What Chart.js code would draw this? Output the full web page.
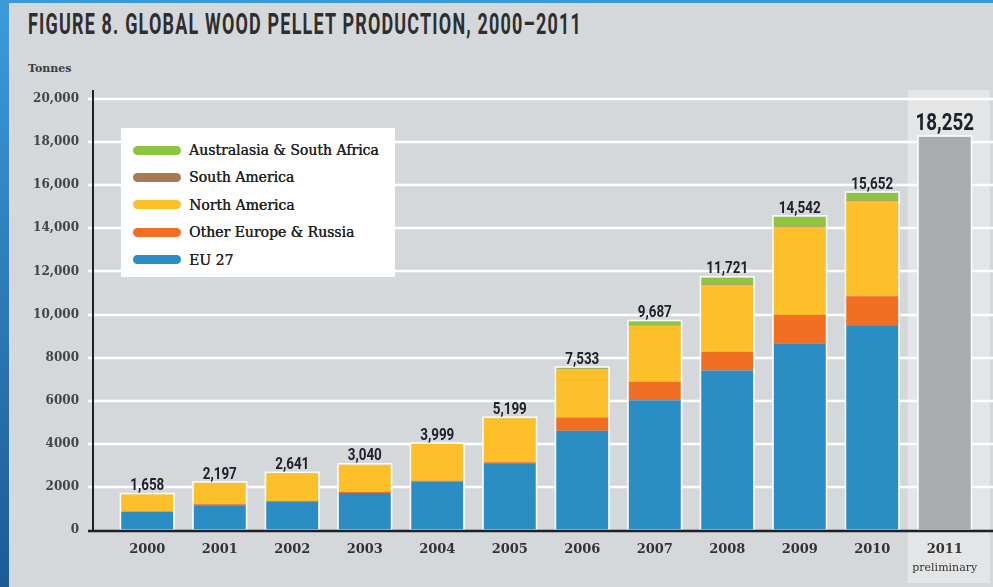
<!DOCTYPE html>
<html lang="en">
<head>
<meta charset="UTF-8" />
<title>Global Wood Pellet Production, 2000–2011</title>
<script src="https://cdn.jsdelivr.net/npm/chart.js"></script>
<style>
  html, body { margin: 0; padding: 0; }
  body { width: 993px; height: 587px; overflow: hidden; position: relative; background: #d5d8db; }
  .edge-left { position: absolute; left: 0; top: 0; width: 9px; height: 587px; background: linear-gradient(#3c9bd9, #1c5b96); z-index: 3; }
  .edge-top { position: absolute; left: 0; top: 0; width: 993px; height: 3px; background: #3a99d8; z-index: 3; }
  #title { position: absolute; left: 28px; top: 6px; font: 700 30px Roboto, sans-serif; color: #2e2e2e; white-space: nowrap; transform-origin: 0 0; letter-spacing: 2px; }
  #unit { position: absolute; left: 28px; top: 62px; font: bold 11px "DejaVu Serif", serif; color: #3c3c3c; }
  #chart { position: absolute; left: 0; top: 0; }
  #legend { position: absolute; left: 121px; top: 128px; width: 274px; height: 149px; background: #fff; z-index: 2; }
  .row { position: absolute; left: 12px; height: 20px; display: flex; align-items: center; font: 14px "DejaVu Serif", serif; color: #222; white-space: nowrap; text-shadow: 0.35px 0 #222; }
  .sw { width: 48px; height: 9px; border-radius: 5px; margin-right: 8px; }
</style>
</head>
<body>
  <div class="edge-top"></div>
  <div class="edge-left"></div>
  <div id="title">FIGURE 8. GLOBAL WOOD PELLET PRODUCTION, 2000–2011</div>
  <div id="unit">Tonnes</div>
  <canvas id="chart" width="993" height="587"></canvas>
  <div id="legend"></div>

<script>
// production by region, tonnes (thousands)
const years = ['2000', '2001', '2002', '2003', '2004', '2005', '2006', '2007', '2008', '2009', '2010', '2011'];
const eu27 =          [850, 1150, 1300, 1720, 2240, 3100, 4600, 6020, 7400, 8650, 9500, null];
const otherEurope =   [10, 40, 40, 40, 50, 40, 620, 860, 870, 1330, 1350, null];
const northAmerica =  [798, 1007, 1301, 1280, 1709, 2044, 2253, 2600, 3100, 4080, 4420, null];
const southAmerica =  [0, 0, 0, 0, 0, 5, 10, 10, 20, 20, 20, null];
const australasia =   [0, 0, 0, 0, 0, 10, 50, 197, 331, 462, 362, null];
const preliminary =   [null, null, null, null, null, null, null, null, null, null, null, 18252];
const totals = [1658, 2197, 2641, 3040, 3999, 5199, 7533, 9687, 11721, 14542, 15652, 18252];
const yTicks = [0, 2000, 4000, 6000, 8000, 10000, 12000, 14000, 16000, 18000, 20000];

const series = [
  { name: 'EU 27', data: eu27, color: '#2a8dc4' },
  { name: 'Other Europe & Russia', data: otherEurope, color: '#f26e23' },
  { name: 'North America', data: northAmerica, color: '#fdc02b' },
  { name: 'South America', data: southAmerica, color: '#a67b53' },
  { name: 'Australasia & South Africa', data: australasia, color: '#8dc540' }
];

// squeeze the title into a condensed look
const title = document.getElementById('title');
function fitTitle() {
  title.style.transform = 'none';
  title.style.transform = 'scaleX(' + (554 / title.getBoundingClientRect().width) + ')';
}
fitTitle();
document.fonts.ready.then(fitTitle);

// legend, top entry first
const legend = document.getElementById('legend');
series.slice().reverse().forEach((s, i) => {
  const row = document.createElement('div');
  row.className = 'row';
  row.style.top = (12 + i * 27.4) + 'px';
  row.innerHTML = '<span class="sw" style="background:' + s.color + '"></span>' + s.name;
  legend.appendChild(row);
});

const backdrop = {
  id: 'backdrop',
  beforeDraw(chart) {
    const { ctx, scales: { x, y } } = chart;
    ctx.save();
    // lighter column behind the preliminary year
    const cx = x.getPixelForValue(11);
    ctx.fillStyle = '#e3e5e7';
    ctx.fillRect(cx - 37, 90, 82, 493);
    ctx.strokeStyle = '#ffffff';
    ctx.lineWidth = 2.5;
    y.ticks.forEach(t => {
      if (t.value === 0) return;
      const py = Math.round(y.getPixelForValue(t.value));
      ctx.beginPath();
      ctx.moveTo(88, py);
      ctx.lineTo(993, py);
      ctx.stroke();
    });
    ctx.restore();
  }
};

const overlay = {
  id: 'overlay',
  afterDatasetsDraw(chart) {
    const { ctx, scales: { x, y } } = chart;
    const base = y.getPixelForValue(0);
    const w = chart.getDatasetMeta(0).data[0].width;
    ctx.save();
    totals.forEach((total, i) => {
      const cx = x.getPixelForValue(i);
      const top = y.getPixelForValue(total);
      ctx.strokeStyle = 'rgba(255,255,255,0.9)';
      ctx.lineWidth = 1.5;
      ctx.strokeRect(cx - w / 2 - 0.75, top - 0.75, w + 1.5, base - top + 0.75);

      const big = i === years.length - 1;
      ctx.save();
      ctx.fillStyle = '#20202b';
      ctx.textAlign = 'center';
      ctx.textBaseline = 'alphabetic';
      ctx.font = big ? '700 24px Roboto' : '700 16px Roboto';
      ctx.translate(cx, top - (big ? 7 : 4));
      ctx.scale(big ? 0.78 : 0.84, 1);
      ctx.fillText(total.toLocaleString('en-US'), 0, 0);
      ctx.restore();
    });

    // axes
    ctx.strokeStyle = '#1f1f24';
    ctx.lineWidth = 2;
    ctx.beginPath();
    ctx.moveTo(93, 90);
    ctx.lineTo(93, base + 1);
    ctx.stroke();
    ctx.lineWidth = 2.5;
    ctx.beginPath();
    ctx.moveTo(88, base + 1);
    ctx.lineTo(993, base + 1);
    ctx.stroke();

    ctx.fillStyle = '#333';
    ctx.font = '11px "DejaVu Serif"';
    ctx.textAlign = 'center';
    ctx.textBaseline = 'middle';
    ctx.fillText('preliminary', x.getPixelForValue(11), 568);
    ctx.restore();
  }
};

const datasets = series.map(s => ({
  label: s.name,
  data: s.data,
  backgroundColor: s.color,
  borderWidth: 0,
  stack: 'all',
  barPercentage: 0.72,
  categoryPercentage: 1
}));
datasets.push({
  label: '2011 preliminary',
  data: preliminary,
  backgroundColor: '#a9acaf',
  borderWidth: 0,
  stack: 'all',
  barPercentage: 0.72,
  categoryPercentage: 1
});

new Chart(document.getElementById('chart'), {
  type: 'bar',
  data: { labels: years, datasets: datasets },
  options: {
    responsive: false,
    animation: false,
    layout: { padding: { left: 0, right: 12, top: 99, bottom: 0 } },
    plugins: { legend: { display: false }, tooltip: { enabled: false } },
    scales: {
      x: {
        stacked: true,
        grid: { display: false, drawTicks: false },
        border: { display: false },
        ticks: {
          color: '#333',
          padding: 12,
          maxRotation: 0,
          font: { family: 'DejaVu Serif', size: 13, weight: 'bold' }
        },
        afterFit(scale) { scale.height = 57; }
      },
      y: {
        stacked: true,
        min: 0,
        max: 20000,
        grid: { display: false, drawTicks: false },
        border: { display: false },
        afterBuildTicks(scale) { scale.ticks = yTicks.map(v => ({ value: v })); },
        ticks: {
          color: '#444',
          padding: 32,
          font: { family: 'DejaVu Serif', size: 12, weight: 'bold' },
          callback: v => v >= 10000 ? v.toLocaleString('en-US') : String(v)
        },
        afterFit(scale) { scale.width = 111; }
      }
    }
  },
  plugins: [backdrop, overlay]
});
</script>
</body>
</html>
